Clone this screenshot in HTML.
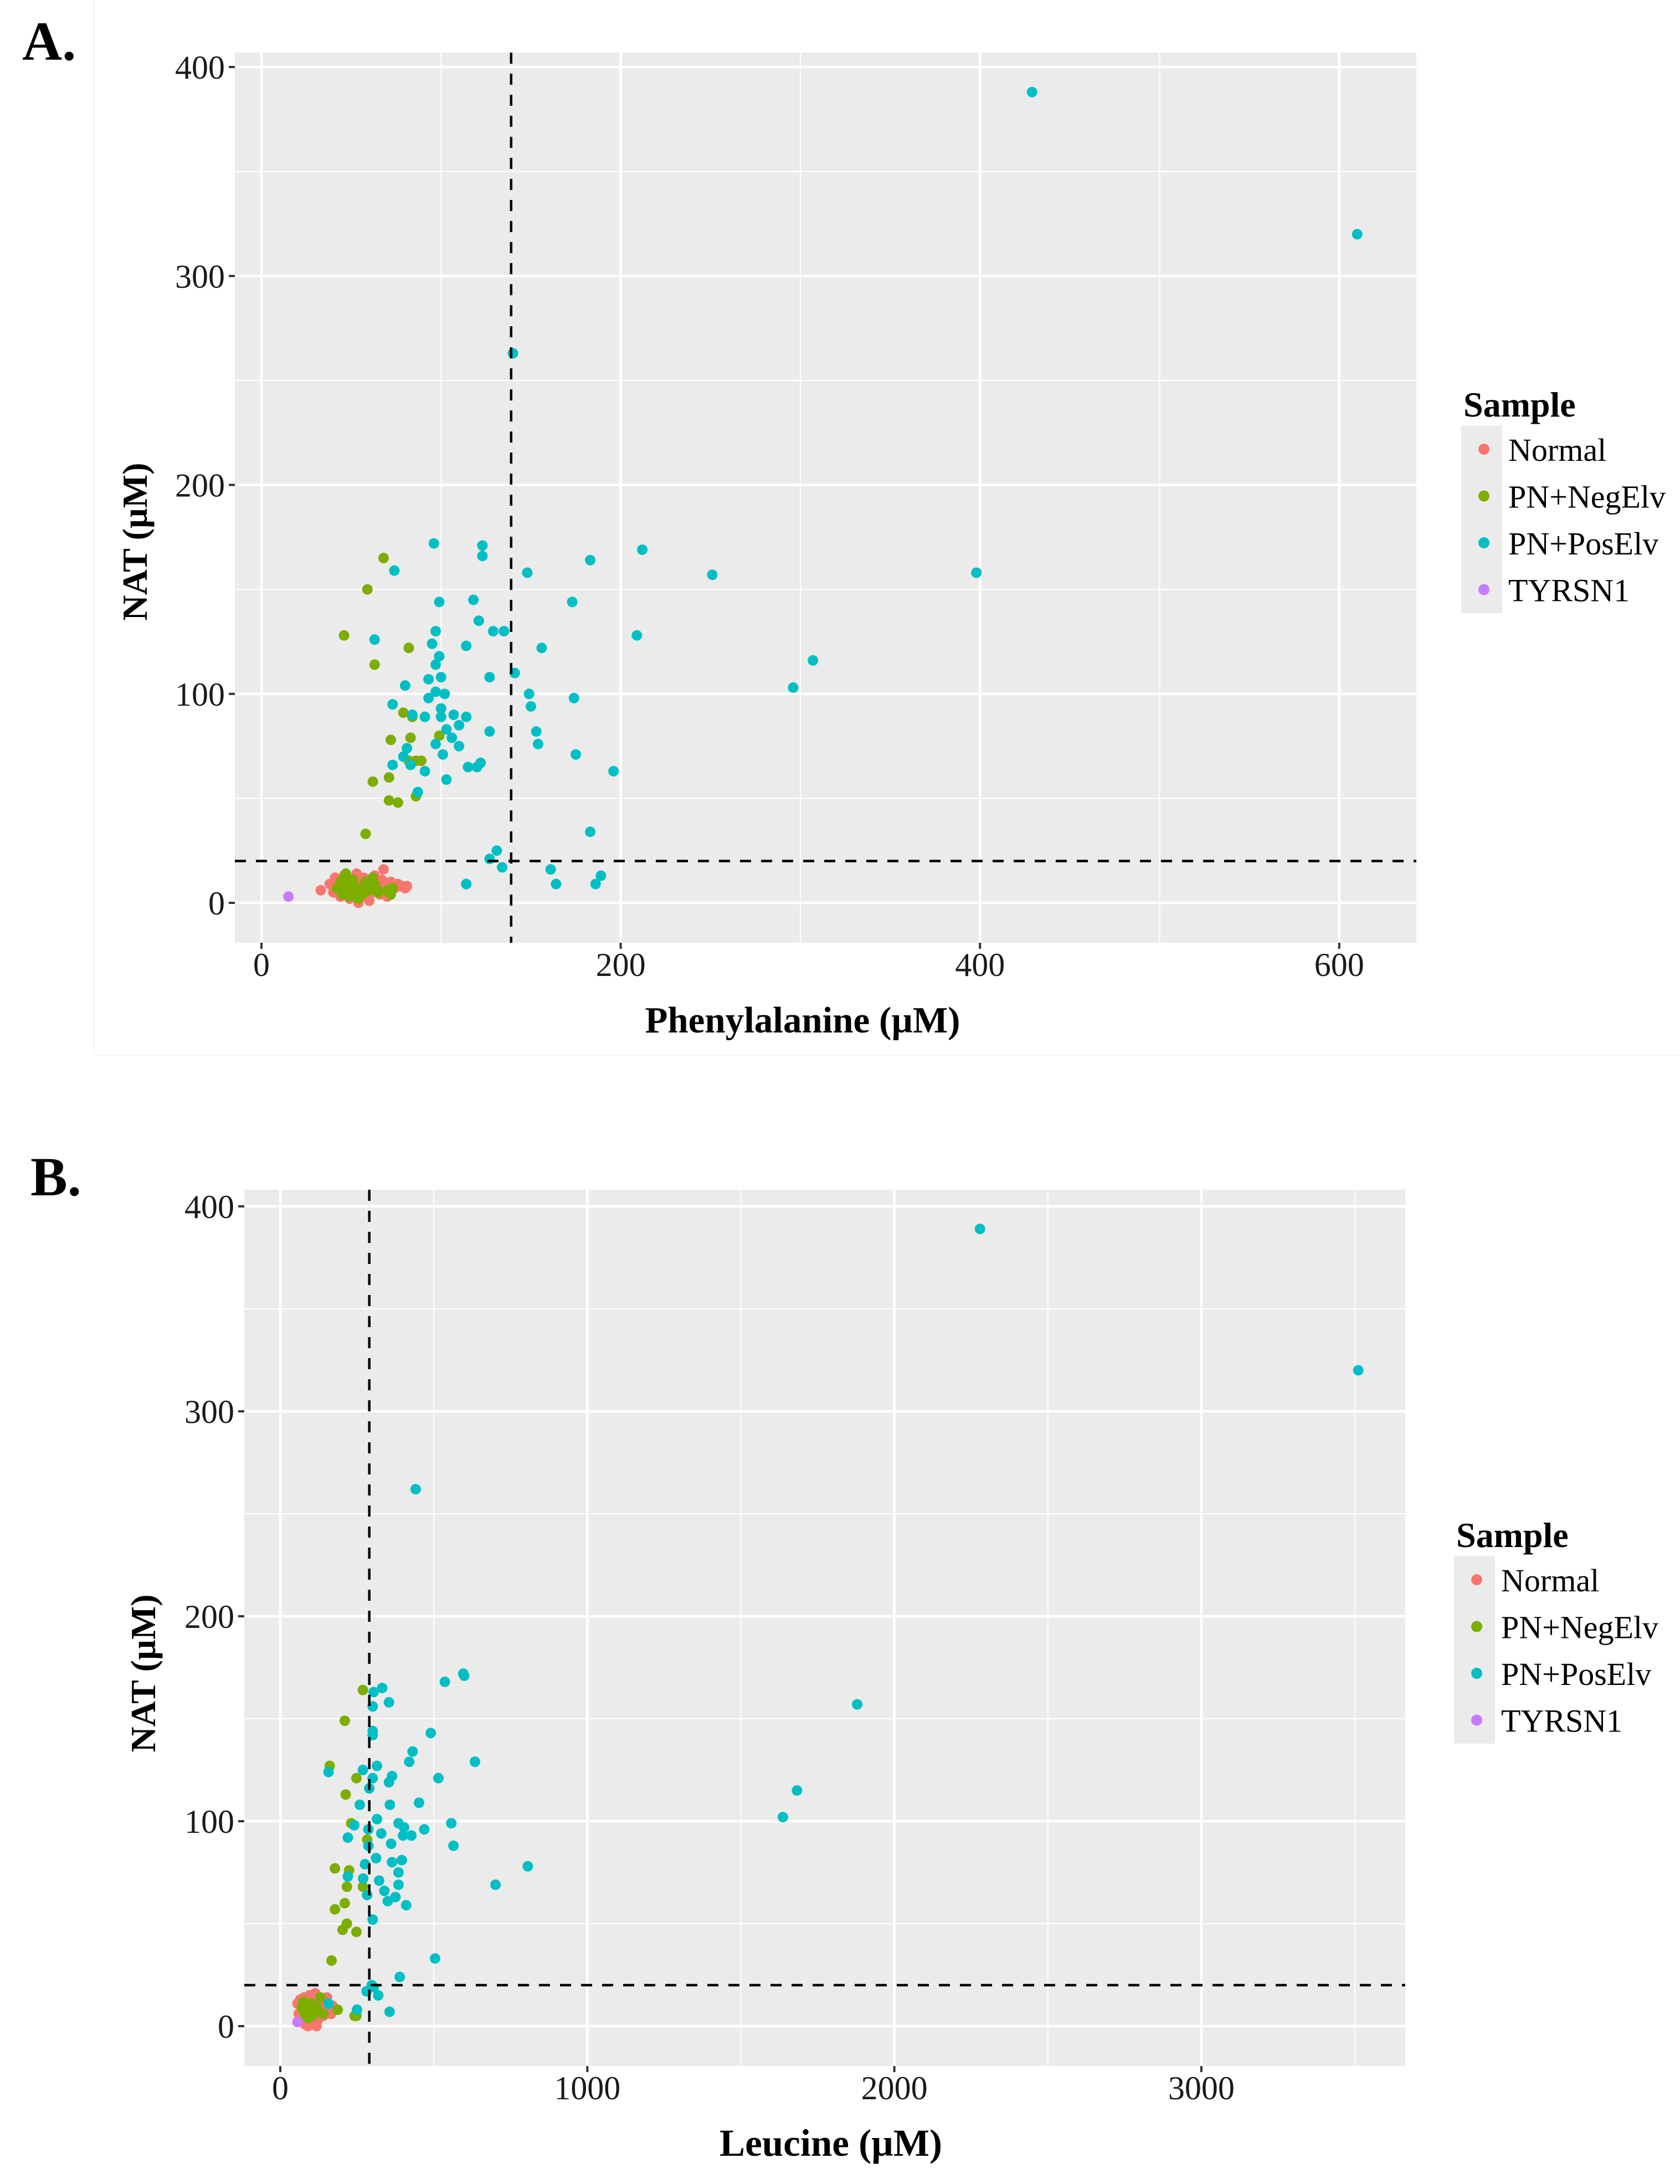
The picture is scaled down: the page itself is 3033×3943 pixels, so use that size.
<!DOCTYPE html>
<html><head><meta charset="utf-8"><style>
html,body{margin:0;padding:0;background:#fff;}
svg{display:block;font-family:"Liberation Serif",serif;}
</style></head><body>
<svg id="fig" xmlns="http://www.w3.org/2000/svg" width="3033" height="3943" viewBox="0 0 3033 3943">
<rect x="0" y="0" width="3033" height="3943" fill="#fff"/>
<line x1="170" y1="0" x2="170" y2="1905" stroke="#f2f2f2" stroke-width="2"/>
<line x1="170" y1="1905" x2="3033" y2="1905" stroke="#f2f2f2" stroke-width="2"/>
<text x="40" y="108" font-size="100" font-weight="bold">A.</text>
<text x="55" y="2158" font-size="100" font-weight="bold">B.</text>
<g id="pa"></g>
<g id="pb"></g>
</svg>
<script>
const COLORS=["#F8766D","#7CAE00","#00BFC4","#C77CFF"];
const groups=["Normal","PN+NegElv","PN+PosElv","TYRSN1"];
// Panel A: Phenylalanine vs NAT
const aNormal=[[33,6],[38,9],[40,5],[41,12],[43,8],[44,3],[45,10],[46,13],[47,6],[48,9],[49,2],[50,11],[51,7],[52,4],[53,14],[54,0],[55,9],[56,6],[57,12],[58,3],[59,8],[60,1],[61,10],[62,5],[63,13],[64,7],[65,9],[66,4],[67,11],[68,16],[69,6],[70,3],[71,8],[72,10],[74,7],[76,9],[78,8],[80,7],[81,8]];
const aNeg=[[68,165],[59,150],[46,128],[63,114],[82,122],[79,91],[84,89],[83,79],[72,78],[82,68],[86,68],[89,68],[71,60],[62,58],[86,51],[71,49],[76,48],[99,80],[58,33],[42,7],[44,10],[45,4],[46,12],[47,14],[47,6],[48,9],[49,3],[50,8],[51,11],[52,5],[54,2],[55,7],[56,4],[58,10],[60,6],[62,12],[63,9],[64,7],[65,5],[70,6],[73,7],[72,4]];
const aPos=[[429,388],[610,320],[140,263],[398,158],[307,116],[296,103],[251,157],[212,169],[209,128],[183,164],[173,144],[174,98],[175,71],[196,63],[183,34],[148,158],[156,122],[153,82],[154,76],[149,100],[150,94],[141,110],[135,130],[129,130],[123,171],[123,166],[118,145],[121,135],[114,123],[127,108],[114,89],[127,82],[122,67],[120,65],[115,65],[96,172],[99,144],[97,130],[95,124],[99,118],[97,114],[93,107],[100,108],[97,101],[93,98],[100,93],[102,100],[80,104],[73,95],[84,90],[91,89],[100,89],[107,90],[103,83],[110,85],[106,79],[110,75],[97,76],[101,71],[103,59],[91,63],[87,53],[73,66],[79,70],[83,66],[63,126],[74,159],[81,74],[127,21],[131,25],[134,17],[114,9],[161,16],[164,9],[186,9],[189,13]];
const aTyr=[[15,3]];
// Panel B: Leucine vs NAT
const bNormal=[[56,11],[60,6],[65,13],[70,3],[72,9],[78,14],[80,1],[84,7],[88,11],[92,4],[95,15],[98,8],[102,2],[106,12],[110,6],[114,16],[118,9],[122,3],[126,13],[130,7],[134,11],[140,5],[146,9],[152,14],[158,8],[165,6],[170,10],[90,0],[118,0]];
const bNeg=[[269,164],[210,149],[161,127],[248,121],[213,113],[231,99],[283,91],[178,77],[224,76],[217,68],[269,68],[210,60],[178,57],[217,50],[203,47],[248,46],[167,32],[248,5],[242,5],[187,8],[70,9],[75,12],[80,6],[85,10],[90,4],[95,8],[100,11],[105,5],[110,7],[120,9],[130,14],[140,6]];
const bPos=[[2279,389],[3511,320],[441,262],[1879,157],[1683,115],[1637,102],[599,171],[596,172],[536,168],[634,129],[490,143],[304,163],[332,165],[354,158],[301,156],[301,144],[301,142],[431,134],[420,129],[315,127],[269,125],[301,121],[364,122],[290,116],[354,119],[515,121],[452,109],[357,108],[259,108],[557,99],[385,99],[403,97],[469,96],[315,101],[287,96],[241,98],[427,93],[400,93],[329,94],[220,92],[564,88],[361,89],[287,88],[396,81],[364,80],[312,82],[276,79],[806,78],[701,69],[385,75],[220,73],[270,72],[322,71],[339,66],[385,69],[375,63],[410,59],[350,61],[283,64],[301,52],[504,33],[389,24],[304,19],[298,20],[281,17],[319,15],[356,7],[250,8],[157,11],[157,124]];
const bTyr=[[56,2]];

const NS="http://www.w3.org/2000/svg";
function mk(parent,tag,attrs){const e=document.createElementNS(NS,tag);for(const k in attrs)e.setAttribute(k,attrs[k]);parent.appendChild(e);return e;}

function panel(g,cfg){
  const sx=v=>cfg.x0px+(v-0)*cfg.xk;
  const sy=v=>cfg.y0px-v*cfg.yk;
  const bg=mk(g,"rect",{x:cfg.L,y:cfg.T,width:cfg.R-cfg.L,height:cfg.B-cfg.T,fill:"#EBEBEB"});
  
  
  cfg.xMinor.forEach(v=>{const l=mk(g,"line",{x1:sx(v),x2:sx(v),y1:cfg.T,y2:cfg.B,stroke:"#fff","stroke-width":2});
    
    });
  cfg.yMinor.forEach(v=>{const l=mk(g,"line",{x1:cfg.L,x2:cfg.R,y1:sy(v),y2:sy(v),stroke:"#fff","stroke-width":2});
    
    });
  cfg.xTicks.forEach(v=>{const l=mk(g,"line",{x1:sx(v),x2:sx(v),y1:cfg.T,y2:cfg.B,stroke:"#fff","stroke-width":4.5});
    
    
    const t=mk(g,"line",{x1:sx(v),x2:sx(v),y1:cfg.B,y2:cfg.B+11,stroke:"#333","stroke-width":4});
    
    
    const tx=mk(g,"text",{x:sx(v),y:cfg.B+60,"font-size":60,"text-anchor":"middle",fill:"#1a1a1a"});tx.textContent=String(v);
    
    });
  cfg.yTicks.forEach(v=>{const l=mk(g,"line",{x1:cfg.L,x2:cfg.R,y1:sy(v),y2:sy(v),stroke:"#fff","stroke-width":4.5});
    
    
    const t=mk(g,"line",{x1:cfg.L-11,x2:cfg.L,y1:sy(v),y2:sy(v),stroke:"#333","stroke-width":4});
    
    
    const tx=mk(g,"text",{x:cfg.L-18,y:sy(v)+21,"font-size":60,"text-anchor":"end",fill:"#1a1a1a"});tx.textContent=String(v);
    
    });
  const sets=[cfg.normal,cfg.neg,cfg.pos,cfg.tyr];
  sets.forEach((arr,i)=>{arr.forEach(p=>{
    const c=mk(g,"circle",{cx:sx(p[0]),cy:sy(p[1]),r:9.5,fill:COLORS[i]});
    
    
  });});
  const hl=mk(g,"line",{x1:cfg.L,x2:cfg.R,y1:sy(cfg.hRef),y2:sy(cfg.hRef),stroke:"#000","stroke-width":4.5,"stroke-dasharray":"20 18"});
  
  
  const vl=mk(g,"line",{x1:sx(cfg.vRef),x2:sx(cfg.vRef),y1:cfg.T,y2:cfg.B,stroke:"#000","stroke-width":4.5,"stroke-dasharray":"20 18"});
  
  
  const xt=mk(g,"text",{x:cfg.xtx,y:cfg.B+162,"font-size":cfg.xtSize,"font-weight":"bold","text-anchor":"middle"});xt.textContent=cfg.xTitle;
  
  
  const yt=mk(g,"text",{x:0,y:0,"font-size":64,"font-weight":"bold","text-anchor":"middle",transform:`translate(${cfg.ytx},${cfg.yty}) rotate(-90)`});yt.textContent="NAT (µM)";
  
  
  // legend
  const lx=cfg.legX, ly=cfg.legY;
  const lt=mk(g,"text",{x:lx+4,y:ly,"font-size":64,"font-weight":"bold"});lt.textContent="Sample";
  
  
  const kb=mk(g,"rect",{x:lx,y:ly+16,width:74,height:339,fill:"#EBEBEB"});
  
  
  groups.forEach((name,i)=>{
    const cy=ly+59+i*84.5;
    const d=mk(g,"circle",{cx:lx+41,cy:cy,r:10,fill:COLORS[i]});
    
    
    const t=mk(g,"text",{x:lx+85,y:cy+21,"font-size":58});t.textContent=name;
    
    
  });
}
panel(document.getElementById('pa'),{L:424,R:2557,T:95,B:1702,x0px:472,xk:3.243,y0px:1630,yk:3.7725,
  xTicks:[0,200,400,600],xMinor:[100,300,500],yTicks:[0,100,200,300,400],yMinor:[50,150,250,350],
  normal:aNormal,neg:aNeg,pos:aPos,tyr:aTyr,hRef:20,vRef:139,xTitle:"Phenylalanine (µM)",xtx:1449,xtSize:67,ytx:265,yty:978,legX:2638,legY:752});
panel(document.getElementById('pb'),{L:441,R:2537,T:2148,B:3730,x0px:506,xk:0.5543,y0px:3658,yk:3.7,
  xTicks:[0,1000,2000,3000],xMinor:[500,1500,2500,3500],yTicks:[0,100,200,300,400],yMinor:[50,150,250,350],
  normal:bNormal,neg:bNeg,pos:bPos,tyr:bTyr,hRef:20,vRef:290,xTitle:"Leucine (µM)",xtx:1500,xtSize:69,ytx:280,yty:3021,legX:2625,legY:2793});
</script>
</body></html>
